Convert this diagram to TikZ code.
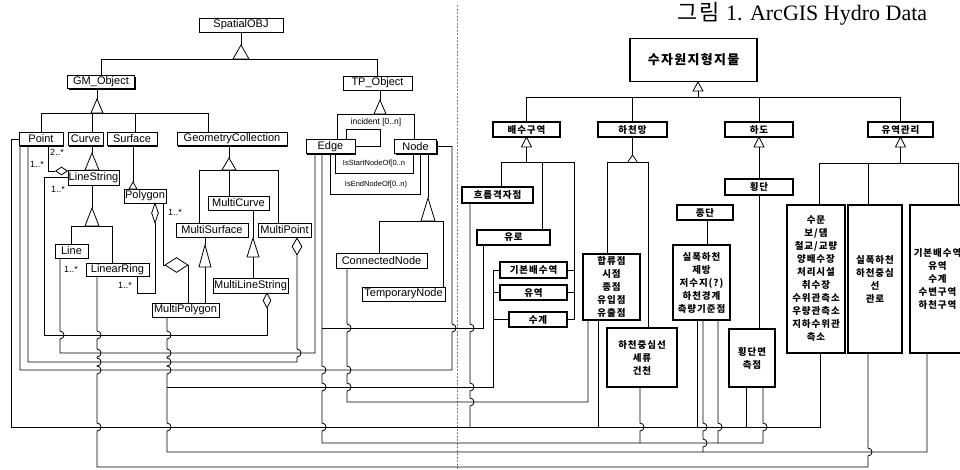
\documentclass[tikz,border=0pt]{standalone}
\usepackage{fontspec}
\setmainfont{Liberation Sans}
\newfontfamily\krfont[LetterSpace=10]{Noto Sans CJK KR}
\newfontfamily\capfont{Liberation Serif}
\usetikzlibrary{shapes.geometric,shadows}
\newcommand{\hpd}[2]{-- (#1,#2-4) .. controls (#1+5.3,#2-4) and (#1+5.3,#2+4) .. (#1,#2+4)}
\newcommand{\hpu}[2]{-- (#1,#2+4) .. controls (#1+5.3,#2+4) and (#1+5.3,#2-4) .. (#1,#2-4)}
\newcommand{\gtri}[4]{\draw [fill=white] (#1,#2) -- (#1-#4,#3) -- (#1+#4,#3) -- cycle;}

\begin{document}
\begin{tikzpicture}[x=1pt,y=-1pt,line width=0.8pt,
  cls/.style={draw,fill=white,line width=1pt,inner sep=0pt,minimum height=14,font=\fontsize{11}{12}\selectfont,drop shadow={shadow xshift=1pt,shadow yshift=-1pt,fill=black,opacity=1}},
  kbox/.style={draw,fill=white,line width=1.2pt,inner sep=0pt,align=center,font=\krfont\bfseries\fontsize{9.5}{13}\selectfont},
  agg/.style={diamond,draw,fill=white,inner sep=0pt,line width=0.8pt},
  mult/.style={inner sep=0pt,font=\fontsize{9}{10}\selectfont},
  role/.style={inner sep=0pt,font=\fontsize{7.5}{9}\selectfont}]
	\useasboundingbox (0,0) rectangle (960,469);
	\clip (0,0) rectangle (960,469);
	\node at (677,20) [anchor=base west,inner sep=0pt,font=\fontsize{22}{24}\selectfont] (caption) {{\krfont 그림} {\capfont 1. ArcGIS Hydro Data}};
	\draw [gray,line width=0.4pt,dash pattern=on 2pt off 1.5pt] (457,5) -- (457,469);
	\node at (241,25) [cls,minimum width=84] (sobj) {SpatialOBJ};
	\node at (101,82) [cls,minimum width=67,minimum height=13] (gmobj) {GM\_Object};
	\node at (377.5,83) [cls,minimum width=69] (tpobj) {TP\_Object};
	\node at (41,139) [cls,minimum width=44,minimum height=13] (point) {Point};
	\node at (85.5,139) [cls,minimum width=35,minimum height=13] (curve) {Curve};
	\node at (132,139) [cls,minimum width=50,minimum height=13] (surface) {Surface};
	\node at (232,139) [cls,minimum width=110,minimum height=13] (geocoll) {GeometryCollection};
	\node at (330.5,146.5) [cls,minimum width=49] (edge) {Edge};
	\node at (415.5,146.5) [cls,minimum width=42] (tpnode) {Node};
	\node at (93.5,177.5) [cls,minimum width=51,minimum height=15] (linestr) {LineString};
	\node at (145,196) [cls,minimum width=42] (polygon) {Polygon};
	\node at (71.5,251) [cls,minimum width=33] (line) {Line};
	\node at (117.5,269.5) [cls,minimum width=63,minimum height=13] (linring) {LinearRing};
	\node at (238.5,203) [cls,minimum width=61] (mcurve) {MultiCurve};
	\node at (212,230) [cls,minimum width=72] (msurf) {MultiSurface};
	\node at (284.5,230) [cls,minimum width=53] (mpoint) {MultiPoint};
	\node at (250.5,285.5) [cls,minimum width=75,minimum height=15] (mlinestr) {MultiLineString};
	\node at (185.5,310) [cls,minimum width=67] (mpolygon) {MultiPolygon};
	\node at (381.5,260.5) [cls,minimum width=91,minimum height=15] (connnode) {ConnectedNode};
	\node at (403.5,294) [cls,minimum width=83] (tempnode) {TemporaryNode};
	\node at (61.5,171) [agg,minimum width=12,minimum height=8] (dls) {};
	\node at (155,213) [agg,minimum width=7,minimum height=20] (dpoly) {};
	\node at (176.5,265) [agg,minimum width=23,minimum height=15] (dmpoly) {};
	\node at (267,300.5) [agg,minimum width=8,minimum height=15] (dmls) {};
	\node at (297,246.5) [agg,minimum width=10,minimum height=17] (dmpt) {};
	\node at (57,152) [mult] (m1) {2..*};
	\node at (37,164) [mult] (m2) {1..*};
	\node at (58,189) [mult] (m3) {1..*};
	\node at (175,212) [mult] (m4) {1..*};
	\node at (71,269) [mult] (m5) {1..*};
	\node at (125,285) [mult] (m6) {1..*};
	\node at (376,122) [inner sep=0pt,font=\fontsize{8.5}{10}\selectfont] (incid) {incident [0..n]};
	\node at (374,163.5) [role] (isstart) {IsStartNodeOf[0..n};
	\node at (376,184.5) [role] (isend) {IsEndNodeOf[0..n)};
	\node at (693.5,60) [kbox,minimum width=127,minimum height=43,font=\krfont\bfseries\fontsize{13}{15}\selectfont] (sjw) {수자원지형지물};
	\node at (526.5,129.5) [kbox,minimum width=67,minimum height=15] (bsg) {배수구역};
	\node at (632.5,129.5) [kbox,minimum width=69,minimum height=15] (hcm) {하천망};
	\node at (759,129.5) [kbox,minimum width=68,minimum height=15] (hado) {하도};
	\node at (900.5,129.5) [kbox,minimum width=65,minimum height=15] (ygl) {유역관리};
	\node at (497.5,195) [kbox,minimum width=71,minimum height=16] (kgrid) {흐름격자점};
	\node at (513.5,237.5) [kbox,minimum width=73,minimum height=15] (kyuro) {유로};
	\node at (533.5,270) [kbox,minimum width=67,minimum height=16] (kbase) {기본배수역};
	\node at (533.5,292.5) [kbox,minimum width=67,minimum height=15] (kyuyeok) {유역};
	\node at (538,319.5) [kbox,minimum width=58,minimum height=15] (kwater) {수계};
	\node at (611.5,287) [kbox,minimum width=57,minimum height=66] (hapryu) {합류점\\시점\\종점\\유입점\\유출점};
	\node at (642,357.5) [kbox,minimum width=70,minimum height=59] (hcl) {하천중심선\\세류\\건천};
	\node at (705,212.5) [kbox,minimum width=56,minimum height=15] (jongdan) {종단};
	\node at (759,187) [kbox,minimum width=68,minimum height=16] (hoengdan) {횡단};
	\node at (701.5,282.5) [kbox,minimum width=57,minimum height=75] (sil) {실폭하천\\제방\\저수지(?)\\하천경계\\측량기준점};
	\node at (752,358) [kbox,minimum width=46,minimum height=58] (hdm) {횡단면\\측점};
	\node at (816,279) [kbox,minimum width=58,minimum height=148] (sumun) {수문\\보/댐\\철교/교량\\양배수장\\처리시설\\취수장\\수위관측소\\우량관측소\\지하수위관\\측소};
	\node at (875,279) [kbox,minimum width=54,minimum height=148] (silbox) {실폭하천\\하천중심\\선\\관로};
	\node at (937.5,279) [kbox,minimum width=55,minimum height=148] (basebox) {기본배수역\\유역\\수계\\수변구역\\하천구역};
	\draw (sobj.south) -- (241,45);
	\gtri{241}{45}{59}{8}
	\draw (gmobj.north) -- (101,59) -- (377.5,59) -- (tpobj.north);
	\draw ([xshift=-4pt]gmobj.south) -- (97,99);
	\gtri{97}{99}{113}{6}
	\draw (point.north) -- (41,113) -- (208,113) -- ([xshift=-24pt]geocoll.north);
	\draw ([xshift=6.5pt]curve.north) -- (92,113);
	\draw ([xshift=3pt]surface.north) -- (135,113);
	\draw ([xshift=2.5pt]tpobj.south) -- (380,100);
	\gtri{380}{100}{114}{6}
	\draw ([xshift=6.5pt]edge.north) -- (337,114) -- (414,114) -- ([xshift=-1.5pt]tpnode.north);
	\draw ([xshift=16pt]edge.north) -- (346.5,129) -- (380,129) -- (380,146.5) -- (edge.east);
	\draw ([xshift=4.5pt]edge.south) -- (335,173) -- (413,173) -- ([xshift=-2.5pt]tpnode.south);
	\draw ([xshift=-0.5pt]edge.south) -- (330,194) -- (420,194) -- ([xshift=4.5pt]tpnode.south);
	\draw ([xshift=12.5pt]tpnode.south) -- (428,198);
	\gtri{428}{198}{221}{7}
	\draw ([xshift=-2.5pt]connnode.north) -- (379,221) -- (443,221) -- ([xshift=39.5pt]tempnode.north);
	\draw ([xshift=6.5pt]curve.south) -- (92,153);
	\gtri{92}{153}{170}{7}
	\draw ([xshift=-1.5pt]linestr.south) -- (92,208);
	\gtri{92}{208}{226}{7}
	\draw ([xshift=-0.5pt]line.north) -- (71,226) -- (112,226) -- ([xshift=-5.5pt]linring.north);
	\draw ([xshift=1pt]surface.south) -- (133,182);
	\gtri{133}{182}{189}{4}
	\draw ([xshift=-3pt]geocoll.south) -- (229,158);
	\gtri{229}{158}{170}{7}
	\draw ([xshift=-13pt]msurf.north) -- (199,170) -- (278,170) -- ([xshift=-6.5pt]mpoint.north);
	\draw ([xshift=-9.5pt]mcurve.north) -- (229,170);
	\draw ([xshift=-7pt]msurf.south) -- (205,245);
	\gtri{205}{245}{267}{6}
	\draw (205,267) -- ([xshift=19.5pt]mpolygon.north);
	\draw ([xshift=14.5pt]mcurve.south) -- (253,238);
	\gtri{253}{238}{257}{6}
	\draw (253,257) -- ([xshift=2.5pt]mlinestr.north);
	\draw ([xshift=7pt]point.south) -- (48,171) -- (dls.west);
	\draw (dpoly.south) -- (155,293) -- (137,293) -- ([xshift=19.5pt]linring.south);
	\draw ([xshift=18pt]polygon.south) -- (163,265) -- (dmpoly.west);
	\draw (dmpoly.east) -- (188,265) -- ([xshift=2.5pt]mpolygon.north);
	\draw (linestr.west) -| (44,335) -- (267,335) -- (dmls.south);
	\draw (dmpt.south) \hpd{297}{353} -- (297,362) -- (28,362) -- ([xshift=-13pt]point.south);
	\draw (point.west) -| (11,427) -- (820,427) -- ([xshift=4pt]sumun.south);
	\draw (tpnode.east) -- (452,146.5) \hpd{452}{328} -- (452,370) -- (20,370) -- ([xshift=-21pt]point.south);
	\draw ([xshift=-11.5pt]line.south) \hpd{60}{335} -- (60,353) -- (315,353) -- ([xshift=-15.5pt]edge.south);
	\draw ([xshift=-20.5pt]linring.south) \hpd{97}{335} \hpd{97}{353} \hpd{97}{362} \hpd{97}{370} \hpd{97}{427} -- (97,467) -- (868,467) \hpu{868}{452} -- ([xshift=-7pt]silbox.south);
	\draw ([xshift=-18.5pt]mpolygon.south) \hpd{167}{335} \hpd{167}{353} \hpd{167}{362} \hpd{167}{370} -- (167,387) \hpd{167}{427} -- (167,452) -- (927,452) -- ([xshift=-10.5pt]basebox.south);
	\draw (167,387) -- (493,387) -- (493,270) -- (kbase.west);
	\draw (493,292.5) -- (kyuyeok.west);
	\draw (493,319.5) -- (kwater.west);
	\draw ([xshift=-8.5pt]edge.south) -- (322,328) \hpd{322}{370} \hpd{322}{387} \hpd{322}{427} -- (322,443) -- (763,443) \hpu{763}{427} -- ([xshift=11pt]hdm.south);
	\draw (322,328) -- (483,328) -- ([xshift=-30.5pt]kyuro.south);
	\draw ([xshift=-34.5pt]connnode.south) \hpd{347}{328} \hpd{347}{370} \hpd{347}{387} -- (347,402) -- (588,402) -- ([xshift=-23.5pt]hapryu.south);
	\draw ([xshift=-27.5pt]kgrid.south) \hpd{470}{328} \hpd{470}{387} \hpd{470}{402} -- (470,427);
	\draw ([xshift=-13.5pt]hapryu.south) -- (598,427);
	\draw ([xshift=-2pt]hcl.south) \hpd{640}{427} -- (640,443);
	\draw ([xshift=-4.5pt]sil.south) -- (697,427);
	\draw ([xshift=1.5pt]sil.south) \hpd{703}{427} \hpd{703}{443} -- (703,452);
	\draw ([xshift=16.5pt]sil.south) \hpd{718}{427} -- (718,443);
	\draw ([xshift=-6pt]hdm.south) -- (746,427);
	\gtri{698}{82}{91}{5}
	\draw (698,91) -- (698,97);
	\draw (bsg.north) -- (526.5,97) -- (900.5,97) -- (ygl.north);
	\draw (hcm.north) -- (632.5,97);
	\draw (hado.north) -- (759,97);
	\gtri{526.5}{137}{147}{5}
	\draw (526.5,147) -- (526.5,162);
	\draw ([xshift=3.5pt]kgrid.north) -- (501,162) -- (574,162) -- (574,319.5) -- (kwater.east);
	\draw (542,162) -- ([xshift=28.5pt]kyuro.north);
	\draw (kbase.east) -- (574,270);
	\draw (kyuyeok.east) -- (574,292.5);
	\draw (hcm.south) -- (632.5,155);
	\gtri{632.5}{155}{162.5}{5}
	\draw ([xshift=-4.5pt]hapryu.north) -- (607,162.5) -- (648,162.5) -- ([xshift=6pt]hcl.north);
	\gtri{759}{137}{147}{5}
	\draw (759,147) -- (hoengdan.north);
	\draw (hoengdan.south) -- ([xshift=7pt]hdm.north);
	\draw ([xshift=2pt]jongdan.south) -- ([xshift=5.5pt]sil.north);
	\gtri{900.5}{137}{147}{5}
	\draw (900.5,147) -- (900.5,163);
	\draw ([xshift=3pt]sumun.north) -- (819,163) -- (958,163) -- ([xshift=20.5pt]basebox.north);
	\draw (868,163) -- ([xshift=-7pt]silbox.north);
\end{tikzpicture}
\end{document}
